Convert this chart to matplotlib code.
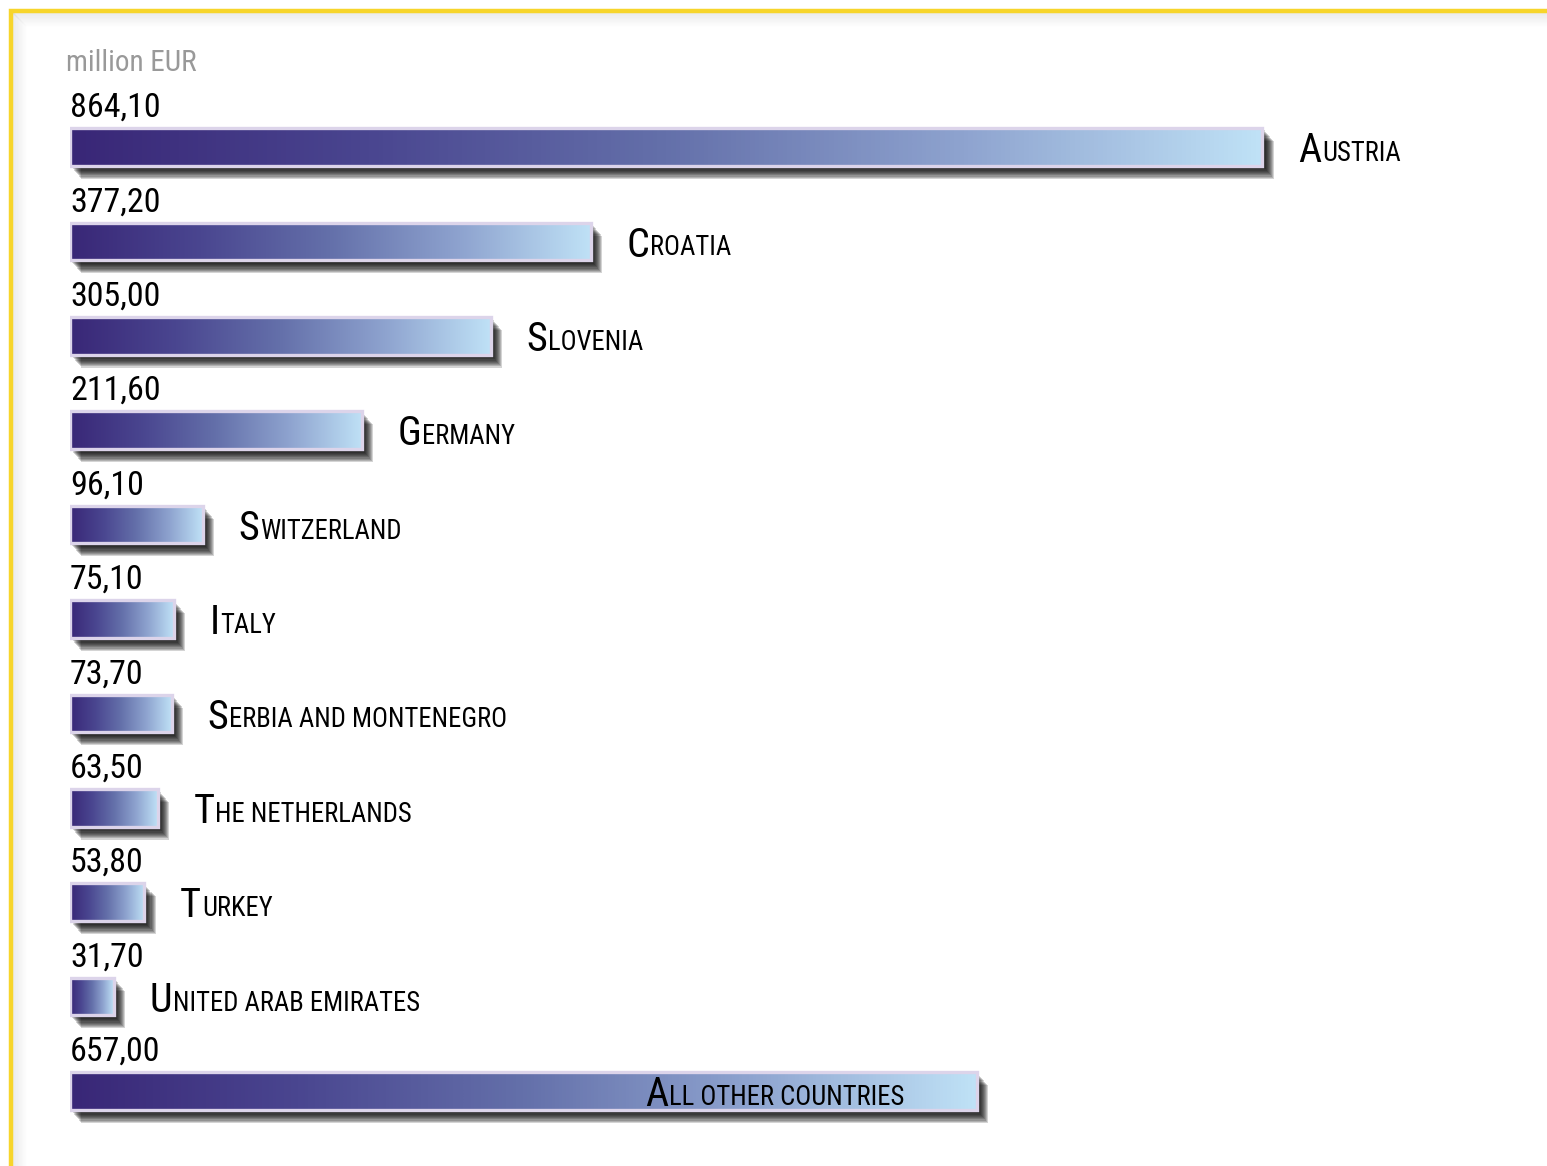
import numpy as np
import matplotlib
matplotlib.use('Agg')
from matplotlib import pyplot as plt
from matplotlib import patheffects as pe
from matplotlib.colors import LinearSegmentedColormap
from matplotlib.patches import Rectangle
from matplotlib.lines import Line2D

countries = ['Austria', 'Croatia', 'Slovenia', 'Germany', 'Switzerland', 'Italy',
             'Serbia and montenegro', 'The netherlands', 'Turkey',
             'United arab emirates', 'All other countries']
values = [864.10, 377.20, 305.00, 211.60, 96.10, 75.10, 73.70, 63.50, 53.80, 31.70, 657.00]
value_labels = ['864,10', '377,20', '305,00', '211,60', '96,10', '75,10',
                '73,70', '63,50', '53,80', '31,70', '657,00']
unit_label = 'million EUR'

W, H = 1547, 1166
FONT = ['Roboto Condensed', 'DejaVu Sans']
PX_PER_UNIT = 1.38
X0 = 70          # pixel of value zero
ROW0 = 147       # pixel centre of first bar
ROW_STEP = 94.4  # pixels between bars
BAR_H = 0.40

fig = plt.figure(figsize=(W / 100, H / 100), dpi=100)
fig.patch.set_facecolor('white')

# yellow frame (top and left) with a soft grey inner shadow
fx = lambda p: p / W
fy = lambda p: 1 - p / H
for k in range(1, 16):
    a = 0.09 * (1 - k / 16)
    fig.add_artist(Line2D([fx(11 + k), fx(11 + k)], [fy(11 + k), 0], color='0.4',
                          alpha=a, lw=1.2, transform=fig.transFigure))
    fig.add_artist(Line2D([fx(11 + k), 1], [fy(11 + k), fy(11 + k)], color='0.4',
                          alpha=a, lw=1.2, transform=fig.transFigure))
fig.add_artist(Line2D([fx(11), fx(11), 1], [0, fy(11), fy(11)], color='#f7d52b',
                      lw=3.2, transform=fig.transFigure, solid_joinstyle='miter'))

ax = fig.add_axes([X0 / W, 0, (W - X0) / W, 1])
ax.axis('off')

cmap = LinearSegmentedColormap.from_list(
    'bar', ['#392777', '#4a4690', '#6470aa', '#8ea3cf', '#bfe1f6'])
grad = np.linspace(0, 1, 256).reshape(1, -1)

# soft drop shadow: many translucent copies shifted right and down
shadow_fx = [pe.SimplePatchShadow(offset=(0.75 * k, -0.85 * k), shadow_rgbFace='black',
                                  alpha=0.17) for k in range(1, 12)]

big_pt, small_pt = 29, 19.2
desc = 0.23 * (big_pt - small_pt)


def small_caps(x, y, text):
    t1 = ax.text(x, y, text[0].upper(), fontsize=big_pt, family=FONT,
                 va='baseline', ha='left', color='black', zorder=5)
    ax.annotate(text[1:].upper(), xy=(1, 0), xycoords=t1,
                xytext=(0.5, desc), textcoords='offset points',
                fontsize=small_pt, family=FONT, va='bottom', ha='left',
                color='black', zorder=5)


for i, (name, v, lab) in enumerate(zip(countries, values, value_labels)):
    top, bot = i - BAR_H / 2, i + BAR_H / 2
    shadow = Rectangle((0, top), v, BAR_H, facecolor='black', edgecolor='none',
                       zorder=1, path_effects=shadow_fx)
    ax.add_patch(shadow)
    ax.imshow(grad, extent=(0, v, bot, top), aspect='auto', cmap=cmap,
              interpolation='bilinear', zorder=2)
    ax.add_patch(Rectangle((0, top), v, BAR_H, facecolor='none',
                           edgecolor='#dcd4ea', lw=2.4, zorder=3))
    ax.text(0, i - 0.32, lab, fontsize=24.5, family=FONT, va='baseline',
            ha='left', color='black')
    if name == 'All other countries':
        small_caps(417, i + 0.16, name)
    else:
        small_caps(v + 26, i + 0.16, name)

ax.text(-3, -0.805, unit_label, fontsize=21, family=FONT, color='#999999',
        va='baseline', ha='left')

ax.set_xlim(0, (W - X0) / PX_PER_UNIT)
ax.set_ylim(len(values) - 1 + (H - (ROW0 + ROW_STEP * (len(values) - 1))) / ROW_STEP,
            -ROW0 / ROW_STEP)

fig.savefig('out.png', dpi=100)
